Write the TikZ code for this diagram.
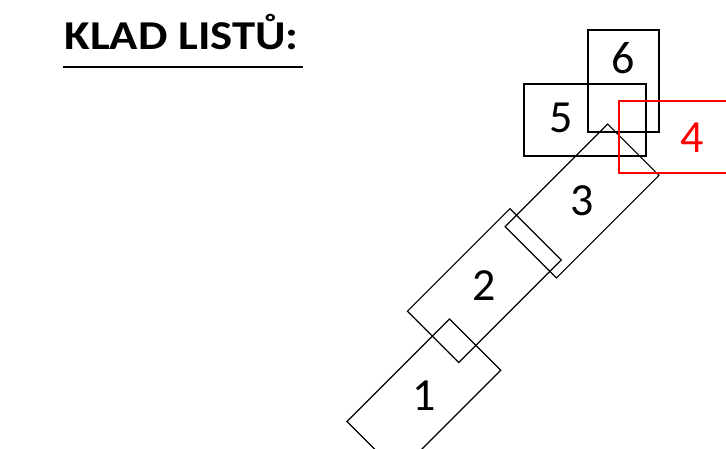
\documentclass[tikz,border=0pt]{standalone}
\usepackage{fontspec}
\setmainfont{Carlito}
\newfontfamily\nadpisfont[FakeStretch=1.14]{Carlito}
\usepackage{tikz}

\begin{document}
\begin{tikzpicture}[x=1pt, y=-1pt, line width=1.2pt,
  every node/.style={font=\fontsize{46}{50}\selectfont},
  list/.style={draw, rectangle, inner sep=0pt, minimum width=145pt, minimum height=72.5pt},
  cislo/.style={inner sep=0pt}]
\useasboundingbox (0,0) rectangle (726,449);
\clip (0,0) rectangle (726,449);

% Nadpis
\node[anchor=base west, inner sep=0pt, font=\nadpisfont\fontsize{41}{46}\selectfont\bfseries] (nadpis) at (64,50) {KLAD LISTŮ:};
\draw[line width=2pt] (63,67) -- (303,67);

% Listy
\node[list, rotate=45] (l1) at (423.9,395.9) {};
\node[list, rotate=45] (l2) at (484.3,285.6) {};
\node[list, rotate=45] (l3) at (582.1,201) {};
\draw (588,30) rectangle (659,132);
\draw (524,84) rectangle (646,156);
\draw[red] (619,101) rectangle (765,173);

% Cisla
\node[cislo] (c1) at (l1) {1};
\node[cislo] (c2) at (l2) {2};
\node[cislo] (c3) at (l3) {3};
\node[cislo, text=red] (c4) at (692,138) {4};
\node[cislo] (c5) at (561.5,118) {5};
\node[cislo] (c6) at (623,58) {6};
\end{tikzpicture}
\end{document}
